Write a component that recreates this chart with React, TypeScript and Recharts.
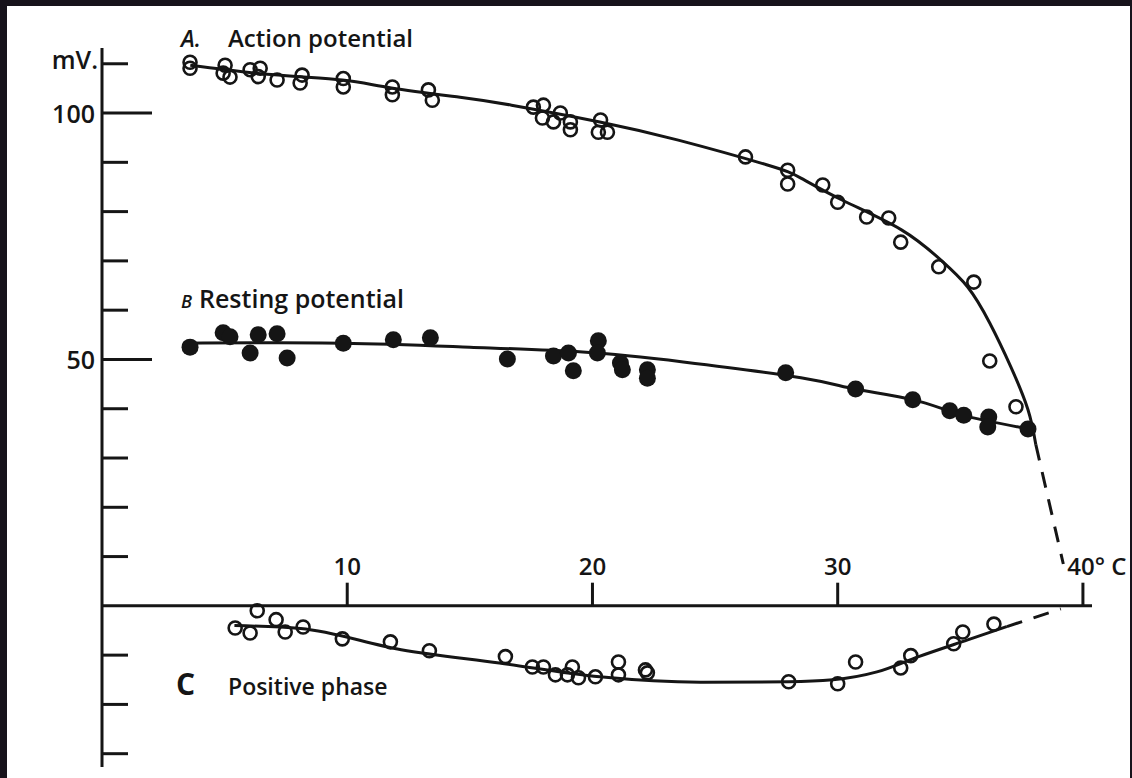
import React from 'react';
import { ComposedChart, Line, Scatter, XAxis, YAxis, ReferenceLine } from 'recharts';

const INK = '#151515';
const FRAME = '#17131b';
const FONT = '"Open Sans", "DejaVu Sans", sans-serif';

// [temperature °C, potential mV]
const actionPts: [number, number][] = [
  [3.59, 110.3], [3.59, 109.1], [5.02, 109.7], [4.94, 108.1], [5.22, 107.3],
  [6.04, 108.8], [6.45, 109.1], [6.37, 107.4], [7.14, 106.7], [8.16, 107.7],
  [8.08, 106.1], [9.84, 107.0], [9.84, 105.3], [11.84, 105.3], [11.84, 103.7],
  [13.31, 104.7], [13.47, 102.6], [17.59, 101.2], [18.0, 101.6], [17.96, 99.0],
  [18.41, 98.2], [18.69, 100.0], [19.1, 98.2], [19.1, 96.6], [20.33, 98.6],
  [20.24, 96.1], [20.61, 96.1], [26.24, 91.1], [27.96, 88.4], [27.96, 85.6],
  [29.39, 85.4], [30.0, 81.9], [31.18, 78.9], [32.08, 78.7], [32.57, 73.8],
  [34.12, 68.8], [35.55, 65.7], [36.2, 49.7], [37.27, 40.4],
];
const actionCurve: [number, number][] = [
  [3.6, 109.7], [6.9, 107.8], [9.8, 106.7], [11.8, 105.1], [14.6, 103.2],
  [16.7, 101.6], [20.3, 98.2], [23.5, 94.5], [27.1, 89.5], [28.5, 86.8],
  [30.2, 82.3], [32.6, 76.3], [34.2, 70.2], [35.3, 64.7], [36.2, 57.4],
  [37.06, 48.5], [37.76, 39.8], [38.08, 32.7],
];
const actionDash: [number, number][] = [[38.08, 32.7], [39.2, 8.5]];

const restingPts: [number, number][] = [
  [3.59, 52.5], [4.94, 55.4], [5.22, 54.6], [6.04, 51.3], [6.37, 55.0],
  [7.14, 55.2], [7.55, 50.3], [9.84, 53.3], [11.88, 54.0], [13.39, 54.4],
  [16.53, 50.1], [18.41, 50.7], [19.02, 51.3], [19.22, 47.7], [20.24, 53.8],
  [20.2, 51.3], [21.14, 49.3], [21.22, 47.9], [22.24, 47.9], [22.24, 46.2],
  [27.88, 47.3], [30.73, 44.0], [33.06, 41.8], [34.57, 39.6], [35.14, 38.7],
  [36.16, 38.3], [36.12, 36.3], [37.76, 35.9],
];
const restingCurve: [number, number][] = [
  [3.3, 53.3], [9.8, 53.3], [15.0, 52.5], [19.6, 51.5], [23.7, 49.5],
  [28.5, 46.3], [30.7, 44.0], [33.1, 41.8], [35.1, 38.7], [37.8, 35.9],
];

const phasePts: [number, number][] = [
  [5.43, -4.5], [6.04, -5.5], [6.33, -1.0], [7.1, -2.8], [7.47, -5.3],
  [8.2, -4.3], [9.8, -6.7], [11.76, -7.3], [13.35, -9.1], [16.45, -10.3],
  [17.55, -12.4], [18.0, -12.4], [18.49, -14.0], [18.98, -14.0], [19.18, -12.4],
  [19.43, -14.6], [20.12, -14.4], [21.06, -11.4], [21.06, -14.0], [22.16, -13.0],
  [22.24, -13.6], [28.0, -15.4], [30.0, -15.8], [30.73, -11.4], [32.57, -12.6],
  [32.98, -10.1], [34.73, -7.7], [35.1, -5.3], [36.37, -3.7],
];
const phaseCurve: [number, number][] = [
  [5.4, -4.0], [8.1, -4.6], [12.2, -8.9], [16.2, -11.6], [20.3, -14.4],
  [24.4, -15.5], [28.0, -15.4], [29.8, -15.0], [31.6, -13.4], [33.3, -10.3],
  [35.3, -6.9], [36.9, -4.2],
];
const phaseDash: [number, number][] = [[36.9, -4.2], [39.1, -0.6]];

const yTicks = [-30, -20, -10, 10, 20, 30, 40, 50, 60, 70, 80, 90, 100, 110];
const yLabelValues = [110, 100, 50];
const yLabelTexts = ['mV.', '100', '50'];
const xTicks = [10, 20, 30, 40];
const xTickLabels = ['10', '20', '30', '40° C'];

const toXY = (arr: [number, number][]) => arr.map(([t, v]) => ({ t, v }));

function OpenDot(props: any) {
  const { cx, cy } = props;
  return <circle cx={cx} cy={cy} r={6.5} fill="none" stroke={INK} strokeWidth={2.6} />;
}

function FilledDot(props: any) {
  const { cx, cy } = props;
  return <circle cx={cx} cy={cy} r={8.5} fill={INK} />;
}

function MvTick({ x, y, payload }: any) {
  const v = payload.value;
  const idx = yLabelValues.indexOf(v);
  const long = v === 100 || v === 50;
  return (
    <g>
      <line x1={x} x2={x + (long ? 50 : 26)} y1={y} y2={y} stroke={INK} strokeWidth={3} />
      {idx >= 0 && (
        <text
          x={x - (v === 110 ? 4 : 7)}
          y={y + (v === 110 ? 5 : 10)}
          textAnchor="end"
          fill={INK}
          fontFamily={FONT}
          fontWeight={600}
          fontSize={25}
        >
          {yLabelTexts[idx]}
        </text>
      )}
    </g>
  );
}

export default function App() {
  return (
    <div style={{ position: 'absolute', left: 0, top: 0, width: 1132, height: 778, background: FRAME }}>
      <div style={{ position: 'absolute', left: 7, top: 6, width: 1123, height: 772, background: '#fff' }} />
      <div style={{ position: 'absolute', left: 0, top: 0 }}>
        <ComposedChart width={1132} height={778} margin={{ top: 48, right: 40, bottom: 11, left: 42 }}>
          <XAxis type="number" dataKey="t" domain={[0, 40.37]} hide allowDataOverflow />
          <YAxis
            type="number"
            dataKey="v"
            width={60}
            domain={[-32.7, 113.2]}
            ticks={yTicks}
            interval={0}
            tickSize={0}
            tickMargin={0}
            tickLine={false}
            axisLine={{ stroke: INK, strokeWidth: 3 }}
            tick={<MvTick />}
            allowDataOverflow
          />
          <ReferenceLine y={0} stroke={INK} strokeWidth={3} />
          {xTicks.map((t, i) => (
            <ReferenceLine
              key={t}
              segment={[{ x: t, y: 0 }, { x: t, y: 4.7 }]}
              stroke={INK}
              strokeWidth={3}
              label={{
                value: xTickLabels[i],
                position: 'top',
                offset: 8,
                fill: INK,
                fontFamily: FONT,
                fontWeight: 600,
                fontSize: 24,
                dx: t === 40 ? 14 : 0,
              }}
            />
          ))}
          <Line data={toXY(actionCurve)} dataKey="v" type="natural" stroke={INK} strokeWidth={3} dot={false} isAnimationActive={false} />
          <Line data={toXY(actionDash)} dataKey="v" type="linear" stroke={INK} strokeWidth={3} strokeDasharray="16 12" dot={false} isAnimationActive={false} />
          <Line data={toXY(restingCurve)} dataKey="v" type="natural" stroke={INK} strokeWidth={3} dot={false} isAnimationActive={false} />
          <Line data={toXY(phaseCurve)} dataKey="v" type="monotone" stroke={INK} strokeWidth={3} dot={false} isAnimationActive={false} />
          <Line data={toXY(phaseDash)} dataKey="v" type="linear" stroke={INK} strokeWidth={3} strokeDasharray="16 12" dot={false} isAnimationActive={false} />
          <Scatter data={toXY(actionPts)} dataKey="v" shape={<OpenDot />} isAnimationActive={false} />
          <Scatter data={toXY(restingPts)} dataKey="v" shape={<FilledDot />} isAnimationActive={false} />
          <Scatter data={toXY(phasePts)} dataKey="v" shape={<OpenDot />} isAnimationActive={false} />
        </ComposedChart>
      </div>
      <svg width={1132} height={778} style={{ position: 'absolute', left: 0, top: 0, pointerEvents: 'none' }}>
        <g fill={INK} fontFamily={FONT} fontWeight={600}>
          <text x={181} y={47} fontSize={23} fontStyle="italic">A.</text>
          <text x={228} y={47} fontSize={24}>Action potential</text>
          <text x={181} y={308} fontSize={18} fontStyle="italic">B</text>
          <text x={199} y={308} fontSize={25}>Resting potential</text>
          <text x={176} y={695} fontSize={30} fontWeight={700}>C</text>
          <text x={228} y={695} fontSize={23}>Positive phase</text>
        </g>
      </svg>
    </div>
  );
}
